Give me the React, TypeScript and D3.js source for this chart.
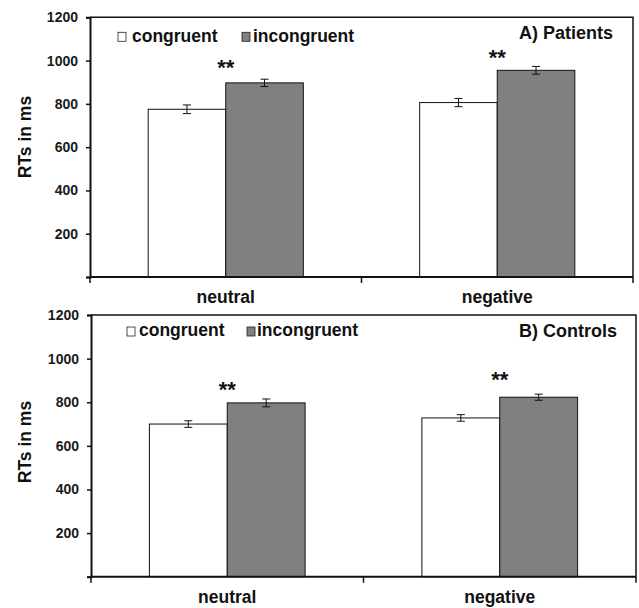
import { useEffect, useRef } from "react";
import * as d3 from "d3";

const categories = ["neutral", "negative"];
const conditions = ["congruent", "incongruent"];
const conditionFills = ["#ffffff", "#808080"];
const yTicks = [0, 200, 400, 600, 800, 1000, 1200];

// A) Patients
const patientsCongruent = [775, 806];
const patientsIncongruent = [897, 955];
const patientsCongruentErr = [20, 19];
const patientsIncongruentErr = [17, 18];
const patientsStars = [988, 1034];

// B) Controls
const controlsCongruent = [700, 728];
const controlsIncongruent = [797, 823];
const controlsCongruentErr = [15, 15];
const controlsIncongruentErr = [18, 14];
const controlsStars = [881, 923];

const FONT = "'Liberation Sans', Arial, sans-serif";

interface Panel {
  title: string;
  congruent: number[];
  incongruent: number[];
  congruentErr: number[];
  incongruentErr: number[];
  stars: number[];
  box: { left: number; top: number; right: number; bottom: number };
  legend: { sqX: number[]; textX: number[]; sqY: number; baseline: number };
  titleRight: number;
  titleBaseline: number;
  yTitleY: number;
}

const panels: Panel[] = [
  {
    title: "A) Patients",
    congruent: patientsCongruent,
    incongruent: patientsIncongruent,
    congruentErr: patientsCongruentErr,
    incongruentErr: patientsIncongruentErr,
    stars: patientsStars,
    box: { left: 90, top: 17.3, right: 633, bottom: 277 },
    legend: { sqX: [28, 152], textX: [42, 163], sqY: 15, baseline: 25 },
    titleRight: 20,
    titleBaseline: 22,
    yTitleY: 137,
  },
  {
    title: "B) Controls",
    congruent: controlsCongruent,
    incongruent: controlsIncongruent,
    congruentErr: controlsCongruentErr,
    incongruentErr: controlsIncongruentErr,
    stars: controlsStars,
    box: { left: 91, top: 315, right: 636, bottom: 576.7 },
    legend: { sqX: [36, 156], textX: [48, 166], sqY: 12, baseline: 21 },
    titleRight: 19,
    titleBaseline: 22,
    yTitleY: 442,
  },
];

export default function App() {
  const svgRef = useRef<SVGSVGElement>(null);

  useEffect(() => {
    document.body.style.margin = "0";
    if (!svgRef.current) return;
    const svg = d3.select(svgRef.current);
    svg.selectAll("*").remove();

    panels.forEach((p) => {
      const w = p.box.right - p.box.left;
      const h = p.box.bottom - p.box.top;

      const y = d3.scaleLinear().domain([0, 1200]).range([h, 0]);
      const x0 = d3.scaleBand<string>().domain(categories).range([0, w]);
      const x1 = d3
        .scaleBand<string>()
        .domain(conditions)
        .range([0, x0.bandwidth()])
        .paddingOuter(0.75);

      const rows = categories.flatMap((cat, i) =>
        conditions.map((cond, j) => ({
          cat,
          cond,
          fill: conditionFills[j],
          value: j === 0 ? p.congruent[i] : p.incongruent[i],
          err: j === 0 ? p.congruentErr[i] : p.incongruentErr[i],
        })),
      );

      const g = svg
        .append("g")
        .attr("transform", `translate(${p.box.left},${p.box.top})`);

      // Bars
      g.selectAll("rect.bar")
        .data(rows)
        .join("rect")
        .attr("class", "bar")
        .attr("x", (d) => x0(d.cat)! + x1(d.cond)!)
        .attr("y", (d) => y(d.value))
        .attr("width", x1.bandwidth())
        .attr("height", (d) => h - y(d.value))
        .attr("fill", (d) => d.fill)
        .attr("stroke", "#111")
        .attr("stroke-width", 1);

      // Error bars
      const eb = g
        .selectAll("g.err")
        .data(rows)
        .join("g")
        .attr("class", "err")
        .attr("stroke", "#111")
        .attr("stroke-width", 1);
      const cx = (d: (typeof rows)[number]) =>
        x0(d.cat)! + x1(d.cond)! + x1.bandwidth() / 2;
      eb.append("line")
        .attr("x1", cx)
        .attr("x2", cx)
        .attr("y1", (d) => y(d.value - d.err))
        .attr("y2", (d) => y(d.value + d.err));
      [1, -1].forEach((s) => {
        eb.append("line")
          .attr("x1", (d) => cx(d) - 4)
          .attr("x2", (d) => cx(d) + 4)
          .attr("y1", (d) => y(d.value + s * d.err))
          .attr("y2", (d) => y(d.value + s * d.err));
      });

      // Significance stars
      g.selectAll("text.star")
        .data(categories)
        .join("text")
        .attr("class", "star")
        .attr("x", (d) => x0(d)! + x0.bandwidth() / 2)
        .attr("y", (_, i) => y(p.stars[i]) + 12)
        .attr("text-anchor", "middle")
        .attr("font-family", FONT)
        .attr("font-weight", "bold")
        .attr("font-size", 22)
        .attr("fill", "#111")
        .text("**");

      // Frame (top and right)
      g.append("path")
        .attr("d", `M0,0H${w}V${h}`)
        .attr("fill", "none")
        .attr("stroke", "#111")
        .attr("stroke-width", 1.5);

      // Y axis
      g.append("g")
        .call(
          d3
            .axisLeft(y)
            .tickValues(yTicks)
            .tickSize(4)
            .tickPadding(8)
            .tickFormat((d) => (Number(d) === 0 ? "" : String(d))),
        )
        .call((a) =>
          a.select(".domain").attr("stroke", "#111").attr("stroke-width", 2),
        )
        .call((a) =>
          a.selectAll(".tick line").attr("stroke", "#111").attr("stroke-width", 1.5),
        )
        .call((a) =>
          a
            .selectAll(".tick text")
            .attr("fill", "#1a1a1a")
            .attr("font-family", FONT)
            .attr("font-weight", "bold")
            .attr("font-size", 14),
        );

      // X axis line + boundary ticks
      g.append("line")
        .attr("x1", 0)
        .attr("x2", w)
        .attr("y1", h)
        .attr("y2", h)
        .attr("stroke", "#111")
        .attr("stroke-width", 2);
      const bounds = [...categories.map((c) => x0(c)!), w];
      g.selectAll("line.xtick")
        .data(bounds)
        .join("line")
        .attr("class", "xtick")
        .attr("x1", (d) => d)
        .attr("x2", (d) => d)
        .attr("y1", h)
        .attr("y2", h + 6)
        .attr("stroke", "#111")
        .attr("stroke-width", 1.5);

      // Category labels
      g.selectAll("text.cat")
        .data(categories)
        .join("text")
        .attr("class", "cat")
        .attr("x", (d) => x0(d)! + x0.bandwidth() / 2)
        .attr("y", h + 26)
        .attr("text-anchor", "middle")
        .attr("font-family", FONT)
        .attr("font-weight", "bold")
        .attr("font-size", 17.5)
        .attr("fill", "#111")
        .text((d) => d);

      // Legend
      conditions.forEach((cond, j) => {
        g.append("rect")
          .attr("x", p.legend.sqX[j])
          .attr("y", p.legend.sqY)
          .attr("width", 8)
          .attr("height", 9)
          .attr("fill", conditionFills[j])
          .attr("stroke", "#222")
          .attr("stroke-width", 0.8);
        g.append("text")
          .attr("x", p.legend.textX[j])
          .attr("y", p.legend.baseline)
          .attr("font-family", FONT)
          .attr("font-weight", "bold")
          .attr("font-size", 17.5)
          .attr("fill", "#111")
          .text(cond);
      });

      // Panel title
      g.append("text")
        .attr("x", w - p.titleRight)
        .attr("y", p.titleBaseline)
        .attr("text-anchor", "end")
        .attr("font-family", FONT)
        .attr("font-weight", "bold")
        .attr("font-size", 18)
        .attr("fill", "#111")
        .text(p.title);

      // Y title
      svg
        .append("text")
        .attr("transform", `translate(30.5,${p.yTitleY}) rotate(-90)`)
        .attr("text-anchor", "middle")
        .attr("font-family", FONT)
        .attr("font-weight", "bold")
        .attr("font-size", 17.5)
        .attr("fill", "#111")
        .text("RTs in ms");
    });
  }, []);

  return (
    <svg
      ref={svgRef}
      width={639}
      height={608}
      style={{ display: "block", background: "#fff" }}
      role="img"
      aria-label="Reaction times for congruent and incongruent trials in patients and controls"
    />
  );
}
